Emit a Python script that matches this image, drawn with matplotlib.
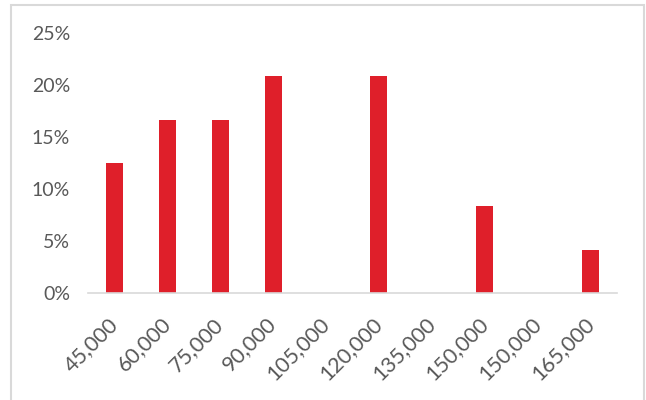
import matplotlib.pyplot as plt
from matplotlib.patches import Rectangle
from matplotlib.ticker import FuncFormatter
from matplotlib.transforms import ScaledTranslation

categories = ["45,000", "60,000", "75,000", "90,000", "105,000",
              "120,000", "135,000", "150,000", "150,000", "165,000"]
shares = [0.125, 0.1667, 0.1667, 0.2083, 0.0,
          0.2083, 0.0, 0.0833, 0.0, 0.0417]
y_ticks = [0, 0.05, 0.10, 0.15, 0.20, 0.25]

plt.rcParams["font.family"] = ["Lato", "DejaVu Sans"]

fig = plt.figure(figsize=(6.46, 4.0), dpi=100)
# outer chart frame like the spreadsheet chart area
fig.patches.append(Rectangle((11 / 646, -0.01), 633 / 646, 0.998, transform=fig.transFigure,
                             fill=False, edgecolor="#D9D9D9", linewidth=1.5))

ax = fig.add_axes([88 / 646, 1 - 293 / 400, 529 / 646, 260 / 400])
x = range(len(categories))
ax.bar(x, shares, width=0.32, color="#DF1F2A")

ax.set_xlim(-0.5, len(categories) - 0.5)
ax.set_ylim(0, 0.25)
ax.set_yticks(y_ticks)
ax.yaxis.set_major_formatter(FuncFormatter(lambda v, _: f"{v:.0%}"))
ax.set_xticks(list(x))
ax.set_xticklabels(categories, rotation=45, ha="right", rotation_mode="anchor",
                   fontsize=15.5)

for side in ["top", "right", "left"]:
    ax.spines[side].set_visible(False)
ax.spines["bottom"].set_color("#D9D9D9")
ax.spines["bottom"].set_linewidth(1.2)
ax.tick_params(axis="both", length=0, labelsize=14, labelcolor="#595959")
ax.tick_params(axis="x", labelsize=15.5, pad=15)
ax.tick_params(axis="y", pad=13)

# nudge the rotated labels left so they sit under the bars like in Excel
shift = ScaledTranslation(-7 / 100, 0, fig.dpi_scale_trans)
for lbl in ax.get_xticklabels():
    lbl.set_transform(lbl.get_transform() + shift)

fig.savefig("out.png", dpi=100)
